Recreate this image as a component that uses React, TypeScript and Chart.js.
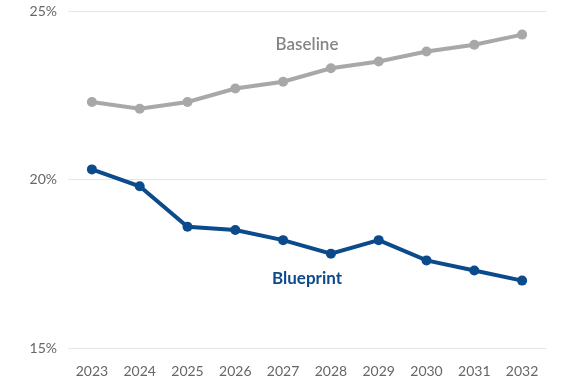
import React, { useEffect, useRef } from "react";
import { Chart, registerables } from "chart.js";

Chart.register(...registerables);

const years = ["2023", "2024", "2025", "2026", "2027", "2028", "2029", "2030", "2031", "2032"];
const baseline = [22.3, 22.1, 22.3, 22.7, 22.9, 23.3, 23.5, 23.8, 24.0, 24.3];
const blueprint = [20.3, 19.8, 18.6, 18.5, 18.2, 17.8, 18.2, 17.6, 17.3, 17.0];
const yTicks = [15, 20, 25];
const seriesNames = ["Baseline", "Blueprint"];
const seriesColors = ["#a7a8aa", "#0b4a8b"];
const labelColors = ["#858585", "#0b4a8b"];
const labelValues = [24.0, 17.05];

const labelPlugin = {
  id: "seriesLabels",
  afterDatasetsDraw(chart: any) {
    const { ctx, scales } = chart;
    const xs = scales.x;
    const ys = scales.y;
    const cx = (xs.getPixelForValue(4) + xs.getPixelForValue(5)) / 2;
    ctx.save();
    ctx.textAlign = "center";
    ctx.textBaseline = "middle";
    seriesNames.forEach((name, i) => {
      ctx.font = i === 0 ? "600 17px Lato" : "bold 17px Lato";
      ctx.fillStyle = labelColors[i];
      ctx.fillText(name, cx, ys.getPixelForValue(labelValues[i]));
    });
    ctx.restore();
  },
};

export default function App() {
  const ref = useRef<HTMLCanvasElement>(null);
  useEffect(() => {
    if (!ref.current) return;
    const chart = new Chart(ref.current, {
      type: "line",
      data: {
        labels: years,
        datasets: [baseline, blueprint].map((d, i) => ({
          label: seriesNames[i],
          data: d,
          borderColor: seriesColors[i],
          backgroundColor: seriesColors[i],
          borderWidth: 4,
          pointRadius: 5,
          pointHoverRadius: 5,
          pointBorderWidth: 0,
          tension: 0,
        })),
      },
      options: {
        animation: false,
        responsive: false,
        maintainAspectRatio: false,
        layout: { padding: { top: 11, right: 34, left: 0, bottom: 0 } },
        plugins: { legend: { display: false }, tooltip: { enabled: false } },
        scales: {
          x: {
            offset: true,
            grid: { display: false, drawTicks: false },
            border: { display: false },
            ticks: { color: "#666", font: { family: "Lato", size: 14 }, padding: 15, maxRotation: 0 },
            afterFit: (s: any) => { s.height = 32; s.paddingLeft = 0; s.paddingRight = 0; },
          },
          y: {
            min: 15,
            max: 25,
            afterBuildTicks: (s: any) => { s.ticks = yTicks.map((v) => ({ value: v })); },
            grid: { color: "#e6e6e6", drawTicks: false, lineWidth: 1 },
            border: { display: false },
            ticks: {
              color: "#666",
              font: { family: "Lato", size: 14 },
              padding: 11,
              callback: (v: any) => v + "%",
            },
            afterFit: (s: any) => { s.width = 68; s.paddingTop = 0; s.paddingBottom = 0; },
          },
        },
      },
      plugins: [labelPlugin],
    });
    return () => chart.destroy();
  }, []);
  return (
    <div style={{ position: "fixed", left: 0, top: 0, width: 580, height: 380, background: "#fff" }}>
      <canvas ref={ref} width={580} height={380} style={{ width: 580, height: 380 }} />
    </div>
  );
}
